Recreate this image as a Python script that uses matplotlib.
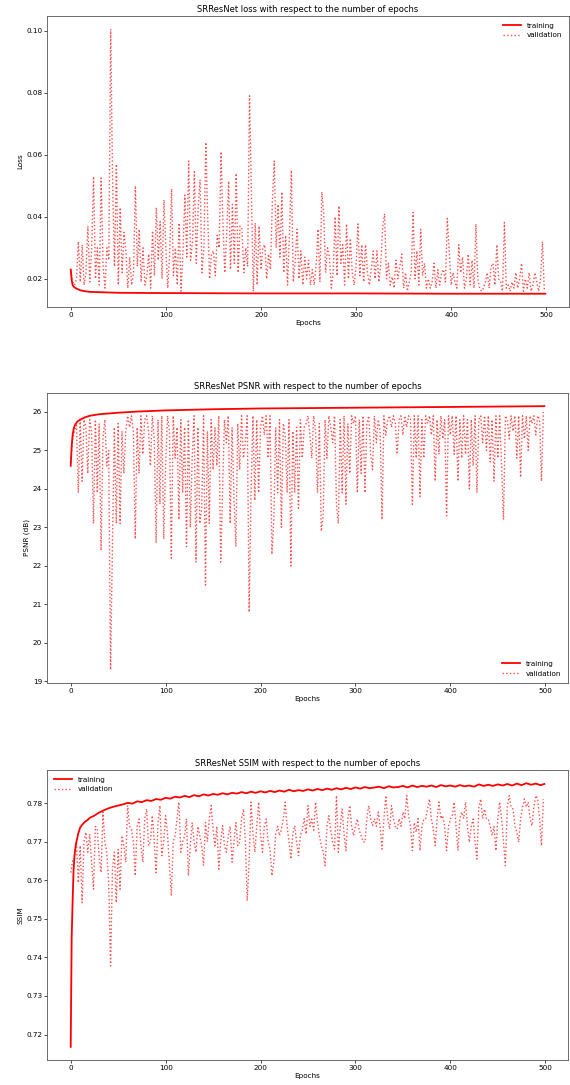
import matplotlib
matplotlib.use("Agg")
import matplotlib.pyplot as plt

val_epochs = list(range(0, 500, 2))

loss_train_epochs = [0, 1, 2, 3, 5, 8, 10, 15, 20, 30, 50, 100, 200, 300, 400, 499]
loss_train = [0.0230, 0.0195, 0.0180, 0.0175, 0.0170, 0.0166, 0.0163, 0.0160, 0.0158,
              0.0157, 0.0155, 0.0154, 0.0153, 0.0153, 0.0152, 0.0152]
loss_val = [
    0.0225, 0.019, 0.018, 0.020, 0.032, 0.019, 0.031, 0.018, 0.022, 0.037,
    0.019, 0.030, 0.053, 0.020, 0.030, 0.018, 0.0525, 0.024, 0.017, 0.030,
    0.026, 0.1005, 0.0515, 0.024, 0.057, 0.018, 0.043, 0.022, 0.035, 0.029,
    0.017, 0.027, 0.018, 0.022, 0.050, 0.024, 0.036, 0.019, 0.030, 0.018,
    0.021, 0.028, 0.017, 0.0355, 0.021, 0.043, 0.026, 0.0385, 0.020, 0.0455,
    0.030, 0.017, 0.028, 0.049, 0.021, 0.030, 0.018, 0.038, 0.016, 0.029,
    0.047, 0.027, 0.058, 0.026, 0.032, 0.0545, 0.025, 0.043, 0.052, 0.022,
    0.030, 0.064, 0.040, 0.020, 0.028, 0.029, 0.021, 0.034, 0.030, 0.061,
    0.038, 0.022, 0.035, 0.0515, 0.023, 0.044, 0.025, 0.054, 0.022, 0.037,
    0.036, 0.022, 0.030, 0.024, 0.079, 0.047, 0.016, 0.038, 0.018, 0.037,
    0.023, 0.030, 0.031, 0.020, 0.028, 0.023, 0.045, 0.058, 0.030, 0.044,
    0.027, 0.048, 0.022, 0.034, 0.018, 0.035, 0.055, 0.019, 0.026, 0.036,
    0.020, 0.029, 0.018, 0.027, 0.020, 0.026, 0.018, 0.023, 0.018, 0.024,
    0.036, 0.019, 0.048, 0.041, 0.022, 0.030, 0.027, 0.017, 0.022, 0.040,
    0.021, 0.0435, 0.025, 0.031, 0.018, 0.0377, 0.020, 0.033, 0.022, 0.018,
    0.024, 0.0377, 0.021, 0.031, 0.019, 0.031, 0.022, 0.018, 0.023, 0.029,
    0.020, 0.029, 0.019, 0.025, 0.0366, 0.041, 0.020, 0.025, 0.018, 0.0206,
    0.017, 0.026, 0.020, 0.024, 0.028, 0.017, 0.022, 0.016, 0.019, 0.022,
    0.0414, 0.020, 0.029, 0.018, 0.036, 0.021, 0.025, 0.017, 0.020, 0.017,
    0.019, 0.025, 0.017, 0.023, 0.018, 0.022, 0.023, 0.019, 0.0395, 0.029,
    0.018, 0.022, 0.019, 0.017, 0.031, 0.022, 0.027, 0.017, 0.020, 0.028,
    0.018, 0.026, 0.017, 0.0377, 0.020, 0.017, 0.016, 0.017, 0.019, 0.022,
    0.017, 0.024, 0.025, 0.018, 0.031, 0.020, 0.019, 0.016, 0.0382, 0.017,
    0.018, 0.016, 0.019, 0.017, 0.022, 0.017, 0.020, 0.025, 0.016, 0.020,
    0.017, 0.022, 0.016, 0.018, 0.022, 0.019, 0.016, 0.020, 0.032, 0.016,
]

psnr_train_epochs = [0, 1, 2, 3, 4, 5, 7, 10, 15, 20, 30, 50, 70, 100, 150, 200,
                     250, 300, 350, 400, 450, 499]
psnr_train = [24.60, 25.10, 25.40, 25.55, 25.63, 25.68, 25.75, 25.80, 25.86, 25.90,
              25.94, 25.98, 26.01, 26.04, 26.07, 26.09, 26.10, 26.11, 26.12, 26.13,
              26.14, 26.15]
psnr_val = [
    24.7, 25.3, 25.5, 25.7, 23.9, 25.8, 24.2, 25.8, 25.6, 24.4,
    25.8, 25.5, 23.1, 25.8, 23.9, 25.7, 22.4, 25.3, 25.8, 24.6,
    25.0, 19.3, 22.6, 25.6, 23.1, 25.7, 23.1, 25.5, 24.4, 25.5,
    25.9, 25.6, 25.9, 25.5, 22.7, 25.6, 24.4, 25.9, 24.9, 25.8,
    25.9, 25.5, 24.6, 25.9, 25.3, 22.6, 25.8, 23.6, 25.9, 22.7,
    24.6, 25.9, 25.5, 22.2, 25.9, 24.8, 25.6, 23.2, 25.8, 23.9,
    25.6, 22.5, 25.8, 23.0, 24.8, 25.9, 22.1, 25.6, 23.1, 23.5,
    25.9, 21.5, 25.5, 23.1, 25.8, 24.5, 25.6, 24.6, 25.9, 22.1,
    23.9, 25.8, 25.2, 25.9, 23.1, 25.6, 23.8, 22.5, 25.7, 24.5,
    25.9, 24.8, 25.2, 25.9, 20.8, 23.9, 25.9, 23.7, 25.8, 23.9,
    25.6, 25.9, 25.4, 25.9, 24.8, 25.9, 22.3, 23.2, 25.6, 23.9,
    25.8, 23.0, 25.7, 25.4, 23.9, 25.8, 22.0, 25.5, 23.9, 25.6,
    23.5, 25.8, 24.8, 25.6, 25.7, 25.9, 25.4, 24.8, 25.9, 25.5,
    23.9, 25.7, 22.9, 23.3, 25.8, 24.8, 25.9, 25.6, 25.2, 25.9,
    23.6, 23.1, 25.8, 23.9, 25.9, 23.6, 25.7, 24.4, 25.9, 25.7,
    25.9, 23.9, 25.8, 24.4, 25.9, 23.9, 25.7, 25.9, 24.9, 24.5,
    25.9, 25.2, 25.8, 25.5, 23.2, 25.9, 25.4, 25.8, 25.9, 25.6,
    25.9, 25.7, 24.9, 25.8, 25.9, 25.4, 25.9, 25.6, 25.9, 25.8,
    23.6, 25.9, 24.8, 25.9, 23.8, 25.8, 24.8, 25.9, 25.7, 25.9,
    25.4, 25.9, 24.2, 25.8, 24.9, 25.9, 25.3, 25.8, 23.3, 25.9,
    25.4, 25.9, 24.9, 25.9, 24.2, 25.8, 24.8, 25.9, 24.9, 25.8,
    24.0, 25.8, 24.6, 25.9, 23.9, 25.8, 25.9, 25.2, 25.9, 25.0,
    25.9, 24.7, 25.8, 24.2, 25.9, 24.8, 25.9, 24.6, 23.2, 25.9,
    25.8, 25.3, 25.9, 25.5, 25.9, 24.8, 25.9, 24.3, 25.9, 25.3,
    25.9, 25.0, 25.9, 25.7, 25.9, 25.4, 25.9, 25.8, 24.2, 26.0,
]

ssim_train_epochs = [0, 1, 2, 3, 4, 5, 6, 8, 10, 12, 15, 18, 20, 25, 30, 35, 40, 45] + \
    list(range(50, 500, 5)) + [499]
ssim_train = [
    0.7168, 0.7450, 0.7545, 0.7625, 0.7665, 0.7685, 0.7700, 0.7722, 0.7737, 0.7744,
    0.7752, 0.7757, 0.7762, 0.7768, 0.7776, 0.7782, 0.7787, 0.7791,
    0.7794, 0.7797, 0.7801, 0.7799, 0.7805, 0.7803, 0.7808, 0.7806, 0.7811, 0.7809,
    0.7814, 0.7812, 0.7817, 0.7815, 0.7819, 0.7816, 0.7821, 0.7818, 0.7823, 0.7820,
    0.7824, 0.7822, 0.7826, 0.7823, 0.7827, 0.7825, 0.7829, 0.7826, 0.7830, 0.7827,
    0.7831, 0.7828, 0.7832, 0.7829, 0.7833, 0.7830, 0.7835, 0.7831, 0.7834, 0.7832,
    0.7836, 0.7833, 0.7837, 0.7834, 0.7838, 0.7835, 0.7839, 0.7836, 0.7840, 0.7837,
    0.7841, 0.7838, 0.7842, 0.7839, 0.7841, 0.7843, 0.7839, 0.7844, 0.7841, 0.7842,
    0.7845, 0.7841, 0.7846, 0.7842, 0.7845, 0.7843, 0.7846, 0.7842, 0.7847, 0.7844,
    0.7846, 0.7843, 0.7847, 0.7844, 0.7846, 0.7843, 0.7849, 0.7845, 0.7848, 0.7845,
    0.7849, 0.7846, 0.7850, 0.7846, 0.7851, 0.7847, 0.7852, 0.7848, 0.7851, 0.7847,
    0.7850,
]
ssim_val = [
    0.7620, 0.7650, 0.7655, 0.7700, 0.7594, 0.7690, 0.7542, 0.7700, 0.7725, 0.7673,
    0.7720, 0.7650, 0.7577, 0.7740, 0.7733, 0.7660, 0.7620, 0.7777, 0.7700, 0.7673,
    0.7594, 0.7378, 0.7629, 0.7673, 0.7542, 0.7680, 0.7577, 0.7716, 0.7690, 0.7647,
    0.7794, 0.7740, 0.7733, 0.7700, 0.7612, 0.7740, 0.7759, 0.7690, 0.7647, 0.7760,
    0.7785, 0.7690, 0.7700, 0.7768, 0.7700, 0.7620, 0.7750, 0.7794, 0.7664, 0.7700,
    0.7768, 0.7720, 0.7640, 0.7560, 0.7700, 0.7716, 0.7760, 0.7803, 0.7673, 0.7700,
    0.7716, 0.7760, 0.7612, 0.7690, 0.7750, 0.7700, 0.7673, 0.7740, 0.7716, 0.7690,
    0.7638, 0.7750, 0.7700, 0.7760, 0.7794, 0.7730, 0.7690, 0.7740, 0.7629, 0.7700,
    0.7742, 0.7690, 0.7673, 0.7716, 0.7740, 0.7647, 0.7700, 0.7750, 0.7690, 0.7699,
    0.7760, 0.7785, 0.7700, 0.7547, 0.7650, 0.7803, 0.7720, 0.7673, 0.7740, 0.7803,
    0.7720, 0.7673, 0.7740, 0.7759, 0.7700, 0.7680, 0.7612, 0.7647, 0.7720, 0.7740,
    0.7716, 0.7733, 0.7760, 0.7803, 0.7740, 0.7700, 0.7655, 0.7720, 0.7742, 0.7700,
    0.7664, 0.7716, 0.7730, 0.7760, 0.7720, 0.7794, 0.7740, 0.7759, 0.7730, 0.7803,
    0.7750, 0.7716, 0.7690, 0.7673, 0.7638, 0.7740, 0.7768, 0.7730, 0.7700, 0.7681,
    0.7820, 0.7673, 0.7740, 0.7785, 0.7720, 0.7677, 0.7760, 0.7794, 0.7740, 0.7716,
    0.7740, 0.7759, 0.7730, 0.7716, 0.7700, 0.7699, 0.7760, 0.7794, 0.7760, 0.7742,
    0.7760, 0.7740, 0.7777, 0.7740, 0.7681, 0.7760, 0.7820, 0.7760, 0.7733, 0.7794,
    0.7760, 0.7740, 0.7733, 0.7760, 0.7740, 0.7777, 0.7760, 0.7820, 0.7768, 0.7740,
    0.7677, 0.7750, 0.7725, 0.7760, 0.7677, 0.7740, 0.7759, 0.7760, 0.7785, 0.7811,
    0.7760, 0.7733, 0.7690, 0.7760, 0.7803, 0.7760, 0.7768, 0.7740, 0.7677, 0.7740,
    0.7759, 0.7768, 0.7803, 0.7740, 0.7677, 0.7760, 0.7777, 0.7760, 0.7803, 0.7740,
    0.7699, 0.7740, 0.7759, 0.7700, 0.7655, 0.7790, 0.7811, 0.7760, 0.7785, 0.7760,
    0.7759, 0.7740, 0.7716, 0.7740, 0.7677, 0.7760, 0.7803, 0.7760, 0.7700, 0.7638,
    0.7790, 0.7820, 0.7790, 0.7785, 0.7740, 0.7725, 0.7699, 0.7760, 0.7790, 0.7811,
    0.7790, 0.7803, 0.7760, 0.7742, 0.7790, 0.7820, 0.7811, 0.7760, 0.7690, 0.7811,
]

panels = [
    ("SRResNet loss with respect to the number of epochs", "Loss",
     loss_train_epochs, loss_train, loss_val, "upper right"),
    ("SRResNet PSNR with respect to the number of epochs", "PSNR (dB)",
     psnr_train_epochs, psnr_train, psnr_val, "lower right"),
    ("SRResNet SSIM with respect to the number of epochs", "SSIM",
     ssim_train_epochs, ssim_train, ssim_val, "upper left"),
]

boxes = [
    [0.0825, 0.7171, 0.9158, 0.2682],
    [0.0825, 0.3705, 0.9140, 0.2673],
    [0.0825, 0.0230, 0.9140, 0.2673],
]

fig = plt.figure(figsize=(5.7, 10.85), dpi=100)
for (title, ylabel, tx, ty, vy, loc), box in zip(panels, boxes):
    ax = fig.add_axes(box)
    ax.plot(tx, ty, color="red", linewidth=1.3, label="training")
    ax.plot(val_epochs, vy, color="red", linestyle=":", linewidth=1.0, alpha=0.7,
            label="validation")
    ax.set_title(title, fontsize=6.0, pad=3)
    ax.set_xlabel("Epochs", fontsize=5.2, labelpad=1.5)
    ax.set_ylabel(ylabel, fontsize=5.2, labelpad=2)
    ax.tick_params(labelsize=5.2, length=2, width=0.5, pad=1.5)
    for s in ax.spines.values():
        s.set_linewidth(0.6)
        s.set_color("#555555")
    ax.legend(loc=loc, fontsize=5.2, frameon=False, handlelength=2.5)

fig.savefig("out.png", dpi=100)
